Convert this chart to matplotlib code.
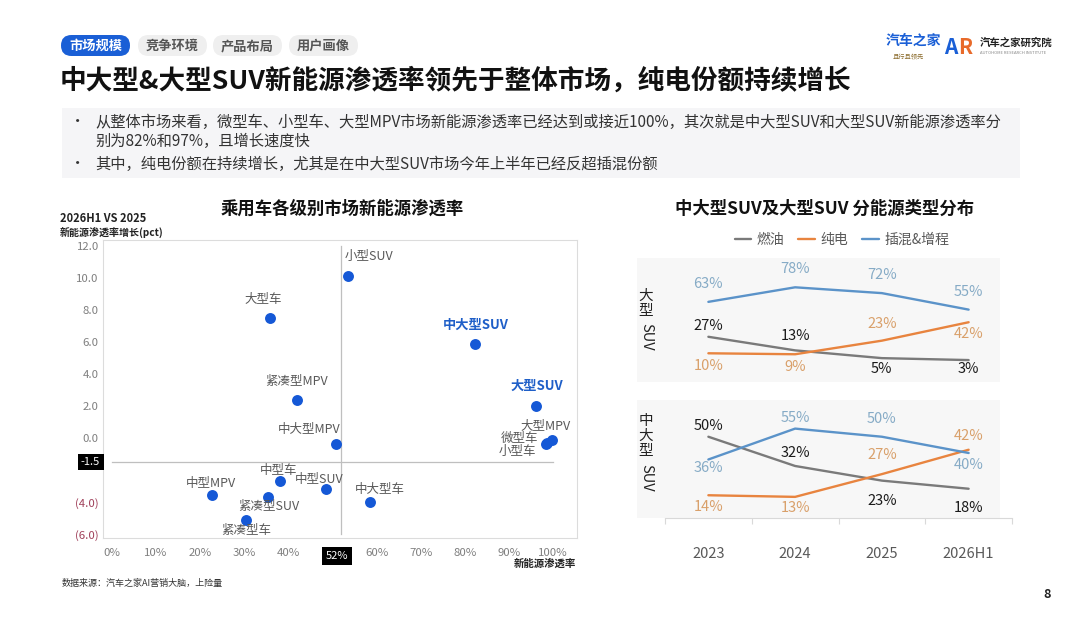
import matplotlib
matplotlib.use("Agg")
import matplotlib.pyplot as plt
import matplotlib.patches as patches
import numpy as np

plt.rcParams['font.family'] = ['Noto Sans CJK SC', 'DejaVu Sans']

W, H = 1080, 622

# ---- scatter data: 新能源渗透率 (%) vs 2026H1 VS 2025 增长 (pct)
seg_names = ["小型SUV", "大型车", "中大型SUV", "紧凑型MPV", "大型SUV", "大型MPV", "微型车", "小型车",
             "中大型MPV", "中型车", "中型SUV", "中型MPV", "紧凑型SUV", "中大型车", "紧凑型车"]
seg_pen = [53.5, 35.8, 82.3, 41.9, 96.2, 99.8, 98.5, 98.3,
           50.9, 38.2, 48.6, 22.7, 35.3, 58.6, 30.5]
seg_growth = [10.1, 7.5, 5.9, 2.4, 2.0, -0.1, -0.3, -0.35,
              -0.4, -2.7, -3.2, -3.55, -3.7, -4.0, -5.1]
avg_pen = 52
avg_growth = -1.5

x_ticks = [0, 10, 20, 30, 40, 60, 70, 80, 90, 100]
y_ticks = [12, 10, 8, 6, 4, 2, 0, -4, -6]

# ---- line data: 能源类型分布 (%)
years = ["2023", "2024", "2025", "2026H1"]
large_ice = [27, 13, 5, 3]
large_bev = [10, 9, 23, 42]
large_phev = [63, 78, 72, 55]
midlarge_ice = [50, 32, 23, 18]
midlarge_bev = [14, 13, 27, 42]
midlarge_phev = [36, 55, 50, 40]

fig = plt.figure(figsize=(W / 100, H / 100), dpi=100)

# background axes in pixel coordinates for page furniture
bg = fig.add_axes([0, 0, 1, 1], zorder=0)
bg.set_xlim(0, W)
bg.set_ylim(H, 0)
bg.axis('off')


def rect_axes(x0, y0, x1, y1, **kw):
    return fig.add_axes([x0 / W, 1 - y1 / H, (x1 - x0) / W, (y1 - y0) / H], **kw)


# tabs
tabs = ["市场规模", "竞争环境", "产品布局", "用户画像"]
tab_x = [61, 138, 213, 289]
for i, t in enumerate(tabs):
    fc = '#1a5fd6' if i == 0 else '#efefef'
    tc = 'white' if i == 0 else '#555555'
    bg.add_patch(patches.FancyBboxPatch((tab_x[i], 35), 69, 21,
                                        boxstyle="round,pad=0,rounding_size=10.5",
                                        fc=fc, ec='none'))
    bg.text(tab_x[i] + 34.5, 46, t, ha='center', va='center', fontsize=9.5,
            color=tc, fontweight='bold')

# logos
bg.text(886, 41, "汽车之家", ha='left', va='center', fontsize=10, color='#1a5fd6', fontweight='bold')
bg.text(893, 56, "且行且领先", ha='left', va='center', fontsize=4.5, color='#8a6a2a', style='italic')
bg.text(944, 47, "A", ha='left', va='center', fontsize=15, color='#1a5fd6', fontweight='bold')
bg.text(958, 47, "R", ha='left', va='center', fontsize=15, color='#e86a2a', fontweight='bold')
bg.text(980, 43, "汽车之家研究院", ha='left', va='center', fontsize=7.5, color='#222222', fontweight='bold')
bg.text(980, 53, "AUTOHOME RESEARCH INSTITUTE", ha='left', va='center', fontsize=3, color='#888888')

# title
bg.text(60, 81, "中大型&大型SUV新能源渗透率领先于整体市场，纯电份额持续增长", ha='left', va='center',
        fontsize=19.2, fontweight='bold', color='#111111')

# bullet box
bg.add_patch(patches.Rectangle((62, 108), 958, 70, fc='#f5f5f7', ec='none'))
bullets = [(122, "从整体市场来看，微型车、小型车、大型MPV市场新能源渗透率已经达到或接近100%，其次就是中大型SUV和大型SUV新能源渗透率分"),
           (141, "别为82%和97%，且增长速度快"),
           (164, "其中，纯电份额在持续增长，尤其是在中大型SUV市场今年上半年已经反超插混份额")]
for yy, txt in bullets:
    bg.text(95, yy, txt, ha='left', va='center', fontsize=11, color='#333333')
bg.text(70, 122, "•", ha='left', va='center', fontsize=11, color='#333333')
bg.text(70, 164, "•", ha='left', va='center', fontsize=11, color='#333333')

# section titles
bg.text(342, 209, "乘用车各级别市场新能源渗透率", ha='center', va='center', fontsize=12.5,
        fontweight='bold', color='#111111')
bg.text(825, 209, "中大型SUV及大型SUV 分能源类型分布", ha='center', va='center', fontsize=12.5,
        fontweight='bold', color='#111111')

bg.text(60, 219, "2026H1 VS 2025", ha='left', va='center', fontsize=8, fontweight='bold', color='#222222')
bg.text(60, 232, "新能源渗透率增长(pct)", ha='left', va='center', fontsize=7.2, fontweight='bold', color='#222222')
bg.text(576, 564, "新能源渗透率", ha='right', va='center', fontsize=7.5, fontweight='bold', color='#222222')
bg.text(62, 583, "数据来源：汽车之家AI营销大脑，上险量", ha='left', va='center', fontsize=6.5, color='#333333')
bg.text(1047, 595, "8", ha='center', va='center', fontsize=9, fontweight='bold', color='#222222')

# right panel backgrounds
bg.add_patch(patches.Rectangle((637, 258), 363, 124, fc='#f7f7f7', ec='none'))
bg.add_patch(patches.Rectangle((637, 400), 363, 118, fc='#f7f7f7', ec='none'))

# ---------------- scatter ----------------
ax = rect_axes(103, 240, 577, 538, zorder=2)
ax.set_xlim(-2.0, 105.4)
ax.set_ylim(-6.25, 12.375)
for s in ax.spines.values():
    s.set_color('#dcdcdc')
    s.set_linewidth(0.8)

ax.plot([avg_pen, avg_pen], [-6, 12], color='#bfbfbf', lw=0.9, zorder=1)
ax.plot([0, 100], [avg_growth, avg_growth], color='#bfbfbf', lw=0.9, zorder=1)
ax.scatter(seg_pen, seg_growth, s=62, color='#1558d6', zorder=3, linewidths=0)

ax.set_xticks(x_ticks)
ax.set_xticklabels([f"{v}%" for v in x_ticks])
ax.set_yticks(y_ticks)
ax.set_yticklabels([f"{v:.1f}" if v >= 0 else f"({-v:.1f})" for v in y_ticks])
ax.tick_params(axis='both', length=0, labelsize=8.2, colors='#7f7f7f')
ax.tick_params(axis='x', pad=7)
ax.tick_params(axis='y', pad=3)
for lab, v in zip(ax.get_yticklabels(), y_ticks):
    if v < 0:
        lab.set_color('#a0405a')

ax.annotate(f"{avg_growth}", xy=(0, avg_growth), xycoords=('axes fraction', 'data'),
            xytext=(-2, 0), textcoords='offset points', ha='right', va='center',
            fontsize=8, color='white',
            bbox=dict(boxstyle='square,pad=0.3', fc='black', ec='none'))
ax.annotate(f"{avg_pen}%", xy=(avg_pen, 0), xycoords=('data', 'axes fraction'),
            xytext=(-3, -13), textcoords='offset points', ha='center', va='center',
            fontsize=8, color='white',
            bbox=dict(boxstyle='square,pad=0.35', fc='black', ec='none'))

# label offsets in pixels (dx, dy up)
label_off = {"小型SUV": (-3, 20, 'left'), "大型车": (-7, 19, 'center'), "中大型SUV": (1, 19, 'center'),
             "紧凑型MPV": (0, 18, 'center'), "大型SUV": (0, 20, 'center'), "大型MPV": (-7, 14, 'center'),
             "微型车": (-27, 4, 'center'), "小型车": (-28, -8, 'center'), "中大型MPV": (-27, 15, 'center'),
             "中型车": (-2, 11, 'center'), "中型SUV": (-7, 10, 'center'), "中型MPV": (-1, 11, 'center'),
             "紧凑型SUV": (1, -9, 'center'), "中大型车": (9, 12, 'center'), "紧凑型车": (0, -11, 'center')}
for name, xv, yv in zip(seg_names, seg_pen, seg_growth):
    dx, dy, ha = label_off[name]
    hl = name in ("中大型SUV", "大型SUV")
    ax.annotate(name, (xv, yv), xytext=(dx * 0.72, dy * 0.72), textcoords='offset points',
                ha=ha, va='center', fontsize=9.5 if hl else 9,
                color='#1f5fc8' if hl else '#595959',
                fontweight='bold' if hl else 'normal', zorder=4)

# ---------------- line panels ----------------
c_ice, c_bev, c_phev = '#7a7a7a', '#e8843f', '#5b93c9'
t_ice, t_bev, t_phev = '#1a1a1a', '#d9a06a', '#86abc6'
xs = np.arange(len(years)) + 0.5

ax1 = rect_axes(665, 258, 1012, 382, zorder=2)
ax1.set_ylim(-19.6, 108.2)
ax2 = rect_axes(665, 400, 1012, 518, zorder=2)
ax2.set_ylim(0, 72.6)

panels = [
    (ax1, [large_ice, large_bev, large_phev],
     [[11, 14, -11, -9], [-13, -13, 17, -12], [18, 18, 18, 18]]),
    (ax2, [midlarge_ice, midlarge_bev, midlarge_phev],
     [[11, 13, -20, -19], [-12, -11, 19, 14], [-9, 11, 18, -12]]),
]
line_handles = []
for a, series, offs in panels:
    a.set_facecolor('none')
    a.set_xlim(0, 4)
    for vals, col, tcol, off in zip(series, [c_ice, c_bev, c_phev], [t_ice, t_bev, t_phev], offs):
        ln, = a.plot(xs, vals, color=col, lw=1.7, solid_capstyle='round')
        if a is ax1:
            line_handles.append(ln)
        for xv, yv, dy in zip(xs, vals, off):
            a.annotate(f"{yv}%", (xv, yv), xytext=(0, dy * 0.72), textcoords='offset points',
                       ha='center', va='center', fontsize=10.5, color=tcol)
    for s in a.spines.values():
        s.set_visible(False)
    a.set_yticks([])

ax1.set_xticks([])
ax2.spines['bottom'].set_visible(True)
ax2.spines['bottom'].set_color('#d9d9d9')
ax2.set_xticks(xs)
ax2.set_xticklabels(years)
ax2.set_xticks([0, 1, 2, 3, 4], minor=True)
ax2.tick_params(axis='x', which='major', length=0, pad=21, labelsize=10.5, colors='#595959')
ax2.tick_params(axis='x', which='minor', length=4, color='#d9d9d9', width=0.8)

fig.legend(line_handles, ["燃油", "纯电", "插混&增程"], loc='center', ncol=3,
           bbox_to_anchor=(842 / W, 1 - 240 / H), frameon=False, fontsize=10,
           handlelength=1.2, columnspacing=1.0, handletextpad=0.4, labelcolor='#595959')

# vertical panel labels: upright CJK stacked, Latin rotated
for a_chars, y0, sy in [("大型", 296, 337), ("中大型", 421, 478)]:
    for k, ch in enumerate(a_chars):
        bg.text(646, y0 + k * 15, ch, ha='center', va='center', fontsize=10.5, color='#222222')
    bg.text(646, sy, "SUV", ha='center', va='center', rotation=-90, fontsize=10.5, color='#222222')

fig.savefig("out.png", dpi=100, facecolor='white')
